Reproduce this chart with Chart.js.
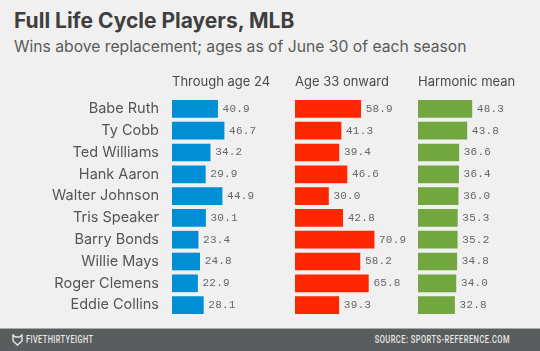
<!DOCTYPE html>
<html>
<head>
<meta charset="utf-8">
<script src="https://cdn.jsdelivr.net/npm/chart.js@4"></script>
<style>
    html, body { margin: 0; padding: 0; }
    body { width: 540px; height: 351px; background: #f0f0f0; position: relative; overflow: hidden; font-family: Inter, sans-serif; }
    canvas { position: absolute; top: 60px; }
    #title { position: absolute; left: 14px; top: 8px; font-size: 21px; font-weight: 700; color: #3f3f3f; white-space: nowrap; }
    #subtitle { position: absolute; left: 14px; top: 37px; font-size: 15.7px; color: #5a5a5a; white-space: nowrap; }
    #footer { position: absolute; left: 0; top: 328px; width: 540px; height: 23px; background: #5a5d5e; border-top: 1px solid #a9abab; box-sizing: border-box; color: #e8e8e8; font: 500 11px Roboto, sans-serif; line-height: 22px; }
    #brand { position: absolute; left: 26px; letter-spacing: 0.6px; transform: scaleX(0.67); transform-origin: left center; }
    #source { position: absolute; right: 30px; letter-spacing: 0.7px; transform: scaleX(0.68); transform-origin: right center; }
    #footer svg { position: absolute; left: 12px; top: 5px; }
</style>
</head>
<body>
<div id="title">Full Life Cycle Players, MLB</div>
<div id="subtitle">Wins above replacement; ages as of June 30 of each season</div>

<canvas id="chartYoung" width="292" height="256" style="left:0"></canvas>
<canvas id="chartOld" width="120" height="256" style="left:295px"></canvas>
<canvas id="chartMean" width="120" height="256" style="left:418px"></canvas>

<div id="footer">
    <svg width="11" height="12" viewBox="0 0 11 12"><path d="M1 1 L3.5 3 L7.5 3 L10 1 L10 7 L5.5 11 L1 7 Z" fill="none" stroke="#e8e8e8" stroke-width="1.4"/></svg>
    <span id="brand">FIVETHIRTYEIGHT</span>
    <span id="source">SOURCE: SPORTS-REFERENCE.COM</span>
</div>

<script>
const players = ['Babe Ruth', 'Ty Cobb', 'Ted Williams', 'Hank Aaron', 'Walter Johnson', 'Tris Speaker', 'Barry Bonds', 'Willie Mays', 'Roger Clemens', 'Eddie Collins'];
const throughAge24 = [40.9, 46.7, 34.2, 29.9, 44.9, 30.1, 23.4, 24.8, 22.9, 28.1];
const age33Onward = [58.9, 41.3, 39.4, 46.6, 30.0, 42.8, 70.9, 58.2, 65.8, 39.3];
const harmonicMean = [48.3, 43.8, 36.6, 36.4, 36.0, 35.3, 35.2, 34.8, 34.0, 32.8];

// same width per win in all three panels
const xMax = 107.6;

// value next to the end of each bar
const valueLabels = {
    id: 'valueLabels',
    afterDatasetsDraw(chart) {
        const ctx = chart.ctx;
        const values = chart.data.datasets[0].data;
        ctx.save();
        ctx.font = '11px "Liberation Mono", monospace';
        ctx.letterSpacing = '0.2px';
        ctx.fillStyle = '#666';
        ctx.textBaseline = 'middle';
        chart.getDatasetMeta(0).data.forEach((bar, i) => {
            ctx.fillText(values[i].toFixed(1), bar.x + 5, bar.y);
        });
        ctx.restore();
    }
};

function makeChart(id, heading, values, color, showNames) {
    new Chart(document.getElementById(id), {
        type: 'bar',
        data: {
            labels: players,
            datasets: [{ data: values, backgroundColor: color, barThickness: 17 }]
        },
        options: {
            indexAxis: 'y',
            responsive: false,
            animation: false,
            devicePixelRatio: 1,
            layout: { padding: 0 },
            plugins: { legend: { display: false }, tooltip: { enabled: false } },
            scales: {
                x: {
                    position: 'top',
                    min: 0,
                    max: xMax,
                    grid: { display: false },
                    border: { display: false },
                    ticks: { display: false },
                    title: {
                        display: true,
                        text: heading,
                        align: 'start',
                        color: '#4a4a4a',
                        font: { family: 'Inter', size: 13 },
                        padding: { top: 14, bottom: 0 }
                    },
                    afterFit(scale) { scale.height = 38; }
                },
                y: {
                    display: showNames,
                    grid: { display: false },
                    border: { display: false },
                    ticks: {
                        color: '#555',
                        font: { family: 'Inter', size: 14.5 },
                        padding: 5,
                        autoSkip: false
                    },
                    afterFit(scale) {
                        if (showNames) scale.width = 172;
                        // keep the plot the same height as the unlabelled panels
                        scale.paddingTop = 0;
                        scale.paddingBottom = 0;
                    }
                }
            }
        },
        plugins: [valueLabels]
    });
}

makeChart('chartYoung', 'Through age 24', throughAge24, '#008fd5', true);
makeChart('chartOld', 'Age 33 onward', age33Onward, '#ff2700', false);
makeChart('chartMean', 'Harmonic mean', harmonicMean, '#72a740', false);
</script>
</body>
</html>
